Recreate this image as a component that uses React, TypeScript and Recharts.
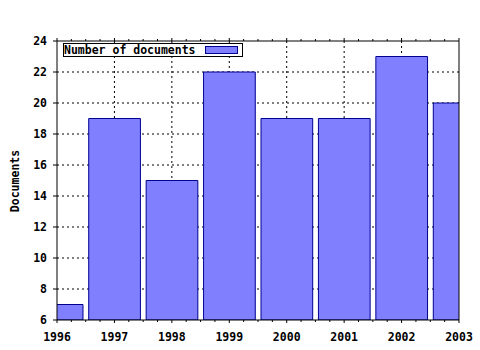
import { Bar, BarChart, CartesianGrid, XAxis, YAxis } from "recharts";

const years = [1996, 1997, 1998, 1999, 2000, 2001, 2002, 2003];
const documents = [7, 19, 15, 22, 19, 19, 23, 20];
const yTicks = [6, 8, 10, 12, 14, 16, 18, 20, 22, 24];
const xTicks = years.flatMap((y, i) => (i < years.length - 1 ? [y, y + 0.25, y + 0.5, y + 0.75] : [y]));

const data = years.map((year, i) => ({ year, documents: documents[i] }));

// grid only on the inner ticks, the frame is drawn by the axes
const gridX = years.slice(1, -1);
const gridY = yTicks.slice(1, -1);

const font = "'DejaVu Sans Mono', monospace";
const textStyle = { fontFamily: font, fontSize: 11.5, fontWeight: "bold", fill: "#000" } as const;

function BottomTick(props: any) {
  const { x, y, payload } = props;
  const major = Number.isInteger(payload.value);
  return (
    <g>
      <line x1={x} y1={y} x2={x} y2={y + (major ? 3 : 2)} stroke="#000" />
      {major && (
        <text x={x} y={y + 13} dy="0.71em" textAnchor="middle" style={textStyle}>
          {payload.value}
        </text>
      )}
    </g>
  );
}

function TopTick(props: any) {
  const { x, y, payload } = props;
  const major = Number.isInteger(payload.value);
  return <line x1={x} y1={y} x2={x} y2={y - (major ? 3 : 2)} stroke="#000" />;
}

function LegendBox() {
  return (
    <div
      style={{
        position: "absolute",
        left: 63,
        top: 43,
        display: "flex",
        alignItems: "center",
        border: "1px solid #000",
        width: 178,
        height: 12,
        background: "#fff",
        fontFamily: font,
        fontSize: 11.5,
        fontWeight: "bold",
        lineHeight: "12px",
      }}
    >
      <span>Number of documents</span>
      <span
        style={{
          display: "inline-block",
          width: 31,
          height: 6,
          marginLeft: 9,
          background: "#8080ff",
          border: "1px solid #000090",
        }}
      />
    </div>
  );
}

export default function App() {
  return (
    <div style={{ position: "fixed", left: 0, top: 0, width: 480, height: 350, background: "#fff" }}>
      <BarChart
        width={480}
        height={350}
        data={data}
        margin={{ top: 40, right: 20, bottom: 0, left: 0 }}
        barSize={51.7}
      >
        <CartesianGrid
          xAxisId="main"
          yAxisId="left"
          stroke="#000"
          strokeDasharray="2 3"
          horizontalValues={gridY}
          verticalValues={gridX}
        />
        <XAxis
          xAxisId="main"
          dataKey="year"
          type="number"
          domain={[1996, 2003]}
          ticks={xTicks}
          interval={0}
          allowDataOverflow
          height={30}
          tickSize={0}
          tickMargin={0}
          tick={<BottomTick />}
          tickLine={false}
          axisLine={{ stroke: "#000" }}
        />
        <XAxis
          xAxisId="top"
          orientation="top"
          dataKey="year"
          type="number"
          domain={[1996, 2003]}
          ticks={xTicks}
          interval={0}
          allowDataOverflow
          height={1}
          tickSize={0}
          tickMargin={0}
          tick={<TopTick />}
          tickLine={false}
          axisLine={{ stroke: "#000" }}
        />
        <YAxis
          yAxisId="left"
          type="number"
          domain={[6, 24]}
          ticks={yTicks}
          interval={0}
          allowDataOverflow
          width={57}
          tickSize={4}
          tickMargin={6}
          tick={textStyle}
          axisLine={{ stroke: "#000" }}
          tickLine={{ stroke: "#000" }}
          label={{
            content: () => (
              <text
                x={15}
                y={181}
                transform="rotate(-90 15 181)"
                textAnchor="middle"
                dominantBaseline="central"
                style={textStyle}
              >
                Documents
              </text>
            ),
          }}
        />
        <YAxis
          yAxisId="right"
          orientation="right"
          type="number"
          domain={[6, 24]}
          width={1}
          tick={false}
          tickLine={false}
          axisLine={{ stroke: "#000" }}
        />
        <Bar
          dataKey="documents"
          xAxisId="main"
          yAxisId="left"
          fill="#8080ff"
          stroke="#000090"
          strokeWidth={1}
          isAnimationActive={false}
        />
      </BarChart>
      <LegendBox />
    </div>
  );
}
